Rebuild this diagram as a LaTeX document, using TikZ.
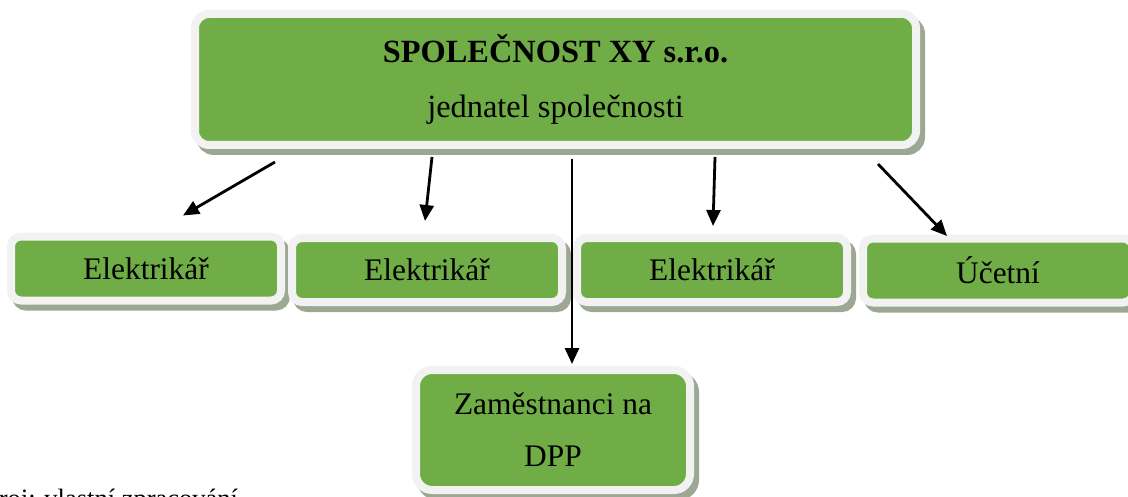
\documentclass[tikz,border=0pt]{standalone}
\usepackage{fontspec}
\setmainfont{Liberation Serif}
\usetikzlibrary{arrows.meta,calc}
\definecolor{boxgreen}{HTML}{70AD47}
\definecolor{boxrim}{HTML}{F2F2F2}
\definecolor{boxshadow}{HTML}{9CA893}
\tikzset{
  orgbox/.style={draw=boxrim, line width=4pt, fill=boxgreen, inner sep=0pt,
    align=center, text=black,
    preaction={draw=boxshadow, fill=boxshadow, line width=4pt,
      transform canvas={shift={(2.5pt,-3pt)}}}},
  smallbox/.style={orgbox, rounded corners=5pt, minimum width=135pt, minimum height=32pt,
    font=\fontsize{15.7}{18}\selectfont},
  arr/.style={line width=1.4pt, -{Triangle[length=8pt,width=7pt]}}
}
\begin{document}
\begin{tikzpicture}[x=0.5pt,y=-0.5pt]
\clip (0,0) rectangle (1128,497);
\useasboundingbox (0,0) rectangle (1128,497);
\node[orgbox, rounded corners=7pt, minimum width=360.5pt, minimum height=65.5pt,
  font=\fontsize{16.2}{27.5}\selectfont] (top) at (555.5,79.5)
  {\textbf{SPOLEČNOST XY s.r.o.}\\jednatel společnosti};
\node[smallbox] (e1) at (146,268.5) {Elektrikář};
\node[smallbox] (e2) at (427,270) {Elektrikář};
\node[smallbox] (e3) at (712,270) {Elektrikář};
\node[smallbox] (e4) at (998,270.5) {Účetní};
\node[orgbox, rounded corners=8pt, minimum width=137pt, minimum height=60pt,
  font=\fontsize{15.7}{26}\selectfont] (dpp) at (553,430) {Zaměstnanci na\\DPP};
\node[anchor=base west, inner sep=0pt, font=\fontsize{13.25}{15}\selectfont] (src) at (-31,507)
  {Zdroj: vlastní zpracování};
\draw[arr] ($(top.south)+(-280.5,13)$) -- ($(e1.north)+(37,-17)$);
\draw[arr] ($(top.south)+(-123.5,8)$) -- ($(e2.north)+(-2,-13)$);
\draw[arr] ($(top.south)+(16.5,10)$) -- ($(dpp.north)+(19,-2)$);
\draw[arr] ($(top.south)+(159.5,8)$) -- ($(e3.north)+(1,-8)$);
\draw[arr] ($(top.south)+(322.5,15)$) -- ($(e4.north)+(-51,1.5)$);
\end{tikzpicture}
\end{document}
